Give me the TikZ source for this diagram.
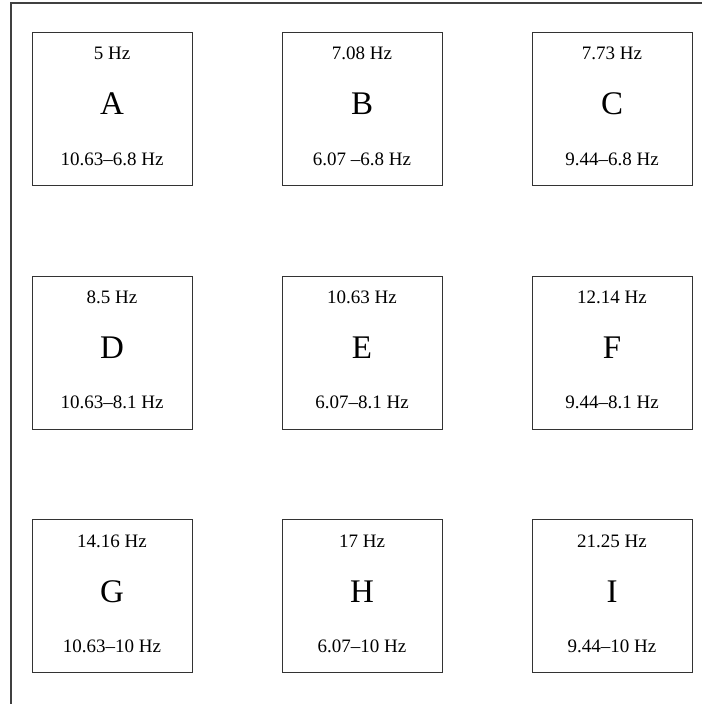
\documentclass[tikz,border=0pt]{standalone}
\usepackage{fontspec}
\setmainfont{Liberation Serif}
\begin{document}
\begin{tikzpicture}[x=1bp,y=-1bp,
  cell/.style={draw=black!80, line width=1.1bp, minimum width=160bp, minimum height=153bp, inner sep=0pt, anchor=north west},
  small/.style={font=\fontsize{19bp}{22bp}\selectfont, anchor=base, inner sep=0pt},
  big/.style={font=\fontsize{33bp}{38bp}\selectfont, anchor=base, inner sep=0pt},
  frame/.style={draw=black!75, line width=1.3bp}]
\useasboundingbox (0,0) rectangle (702,704);
\coordinate (fbl) at (11,704);
\coordinate (ftl) at (11,3);
\coordinate (ftr) at (702,3);
\draw[frame] (fbl) -- (ftl) -- (ftr);
\foreach \n/\c/\r/\t/\b in {
  A/0/0/{5 Hz}/{10.63\textendash6.8 Hz},
  B/1/0/{7.08 Hz}/{6.07 \textendash6.8 Hz},
  C/2/0/{7.73 Hz}/{9.44\textendash6.8 Hz},
  D/0/1/{8.5 Hz}/{10.63\textendash8.1 Hz},
  E/1/1/{10.63 Hz}/{6.07\textendash8.1 Hz},
  F/2/1/{12.14 Hz}/{9.44\textendash8.1 Hz},
  G/0/2/{14.16 Hz}/{10.63\textendash10 Hz},
  H/1/2/{17 Hz}/{6.07\textendash10 Hz},
  I/2/2/{21.25 Hz}/{9.44\textendash10 Hz}}{
  \node[cell] (box\n) at ({31.5+250*\c},{32+243.5*\r}) {};
  \path (box\n.north) ++(0,28) node[small] (top\n) {\t};
  \path (box\n.north) ++(0,83) node[big] (let\n) {\n};
  \path (box\n.north) ++(0,133) node[small] (bot\n) {\b};
}
\end{tikzpicture}
\end{document}
